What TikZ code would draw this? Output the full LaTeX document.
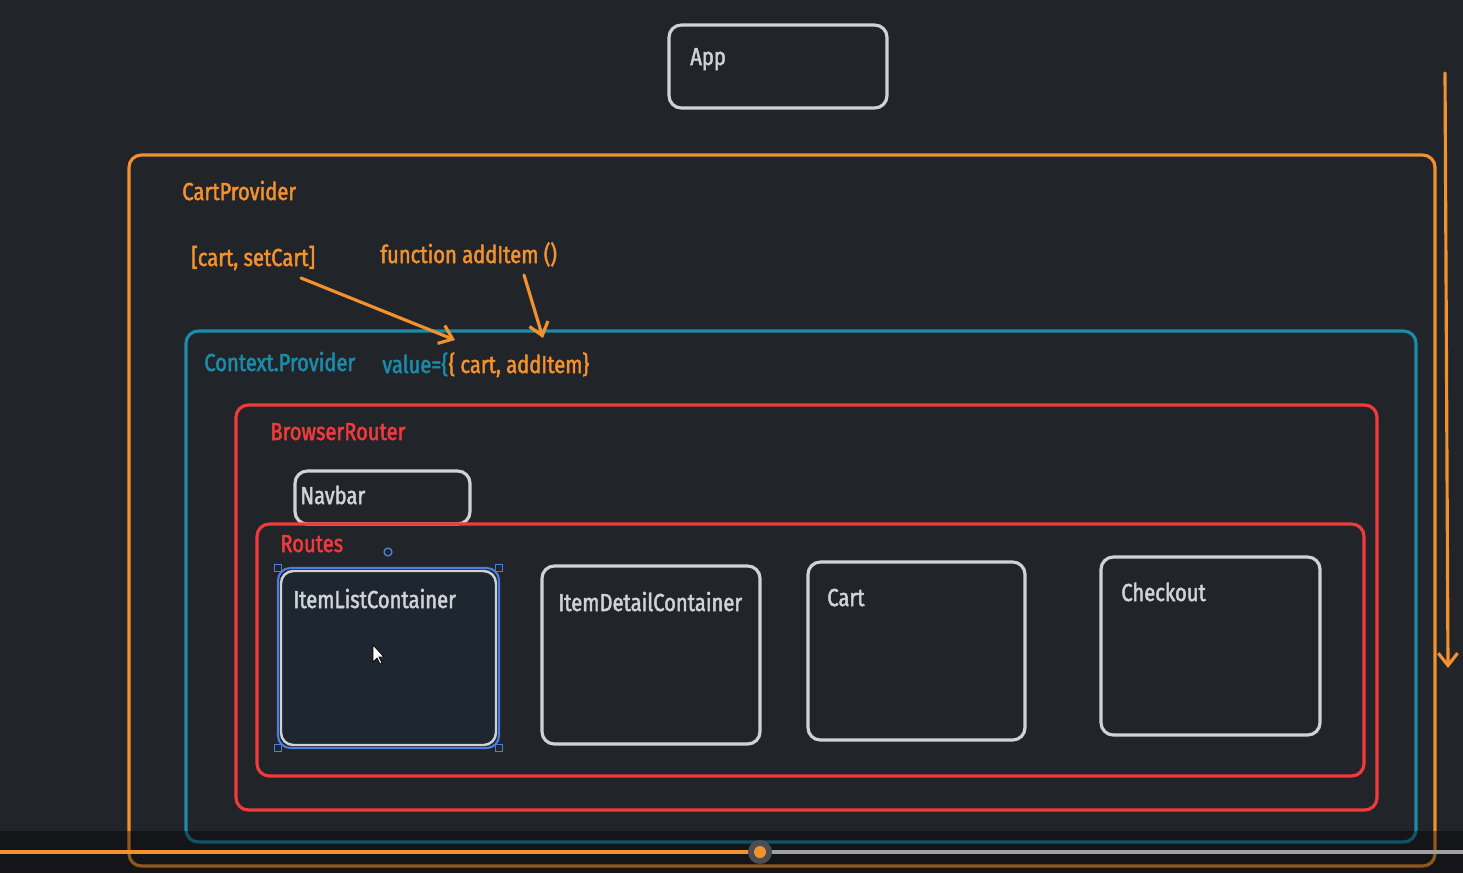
\documentclass[tikz,border=0pt]{standalone}
\usepackage{fontspec}
\setmainfont{Fira Sans}[FakeStretch=0.82, FakeBold=2]
\usepackage{xcolor}
\usepackage{tikz}
\usetikzlibrary{positioning, fit, arrows.meta}

\definecolor{bgc}{HTML}{212429}
\definecolor{orangec}{HTML}{F2912E}
\definecolor{tealc}{HTML}{1A8CAA}
\definecolor{redc}{HTML}{F23A3A}
\definecolor{grayc}{HTML}{CFD3D7}
\definecolor{selblue}{HTML}{4A7FE0}
\definecolor{selfill}{HTML}{1E2630}
\definecolor{knobc}{HTML}{4B4D52}

\begin{document}
\begin{tikzpicture}[
    x=0.02cm, y=-0.02cm,
    box/.style={draw=#1, line width=1.8pt, rounded corners=7pt, inner sep=0pt},
    txt/.style={text=#1, font=\fontsize{14}{16}\selectfont, anchor=base west, inner sep=0pt},
    arrow/.style={-{Straight Barb[length=7pt, width=11pt]}, draw=orangec, line width=1.8pt, line cap=round},
    handle/.style={draw=selblue, fill=bgc, line width=0.8pt, minimum size=4pt, inner sep=0pt}
]

% canvas
\fill[bgc] (0,0) rectangle (1463,873);
\useasboundingbox (0,0) rectangle (1463,873);

% containers
\node[box=grayc, fit={(669,25) (887,108)}] (app) {};
\node[box=orangec, fit={(129,155) (1435,866)}] (cartprov) {};
\node[box=tealc, fit={(186,331) (1416,842)}] (ctxprov) {};
\node[box=redc, fit={(236,405) (1377,810)}] (router) {};
\node[box=grayc, fit={(295,471) (470,524)}] (navbar) {};
\node[box=redc, fit={(257,524) (1364,776)}] (routes) {};

% route pages
\node[box=grayc, fill=selfill, line width=1.4pt, fit={(281,571) (496,745)}] (itemlist) {};
\node[box=grayc, fit={(542,566) (760,744)}] (itemdetail) {};
\node[box=grayc, fit={(808,562) (1025,740)}] (cart) {};
\node[box=grayc, fit={(1101,557) (1320,735)}] (checkout) {};

% labels
\node[txt=grayc] (applbl) at (690,65) {App};
\node[txt=orangec] (cartprovlbl) at (182,200) {CartProvider};
\node[txt=orangec] (statelbl) at (191,266) {[cart, setCart]};
\node[txt=orangec] (fnlbl) at (380,263) {function addItem ()};
\node[txt=tealc] (ctxlbl) at (204,371) {Context.Provider};
\node[txt=tealc] (vallbl) at (382,373) {value=\{};
\node[txt=orangec] (valitems) at (vallbl.base east) {\{ cart, addItem\}};
\node[txt=redc] (routerlbl) at (270,440) {BrowserRouter};
\node[txt=grayc] (navbarlbl) at (300,504) {Navbar};
\node[txt=redc] (routeslbl) at (280,552) {Routes};
\node[txt=grayc] (itemlistlbl) at (293,608) {ItemListContainer};
\node[txt=grayc] (itemdetaillbl) at (558,611) {ItemDetailContainer};
\node[txt=grayc] (cartlbl) at (827,606) {Cart};
\node[txt=grayc] (checkoutlbl) at (1121,601) {Checkout};

% arrows into value
\coordinate (statetail) at (301,278);
\coordinate (statehead) at (455,340);
\coordinate (fntail) at (524,275);
\coordinate (fnhead) at (543,338);
\draw[arrow] (statetail) -- (statehead);
\draw[arrow] (fntail) -- (fnhead);

% flow arrow on the right
\coordinate (flowtop) at (1445,73);
\coordinate (flowend) at (1448,668);
\draw[arrow] (flowtop) -- (flowend);

% selection of ItemListContainer
\draw[selblue, line width=1.2pt, rounded corners=7pt] (278,568) rectangle (499,748);
\node[handle] (h1) at (278,568) {};
\node[handle] (h2) at (499,568) {};
\node[handle] (h3) at (278,748) {};
\node[handle] (h4) at (499,748) {};
\node[draw=selblue, circle, line width=0.8pt, minimum size=4.5pt, inner sep=0pt] (rot) at (388,552) {};
\filldraw[white, draw=black, line width=0.4pt] (373,645) -- (373,662) -- (377,658) -- (380,664) -- (382,663) -- (379,657) -- (384,657) -- cycle;

% player bar
\fill[black, opacity=0.4] (0,831) rectangle (1463,873);
\draw[orangec, line width=2.4pt] (0,852) -- (760,852);
\draw[gray!75, line width=2.4pt] (760,852) -- (1463,852);
\fill[knobc] (760,852) circle (12);
\fill[orangec] (760,852) circle (6);

\end{tikzpicture}
\end{document}
